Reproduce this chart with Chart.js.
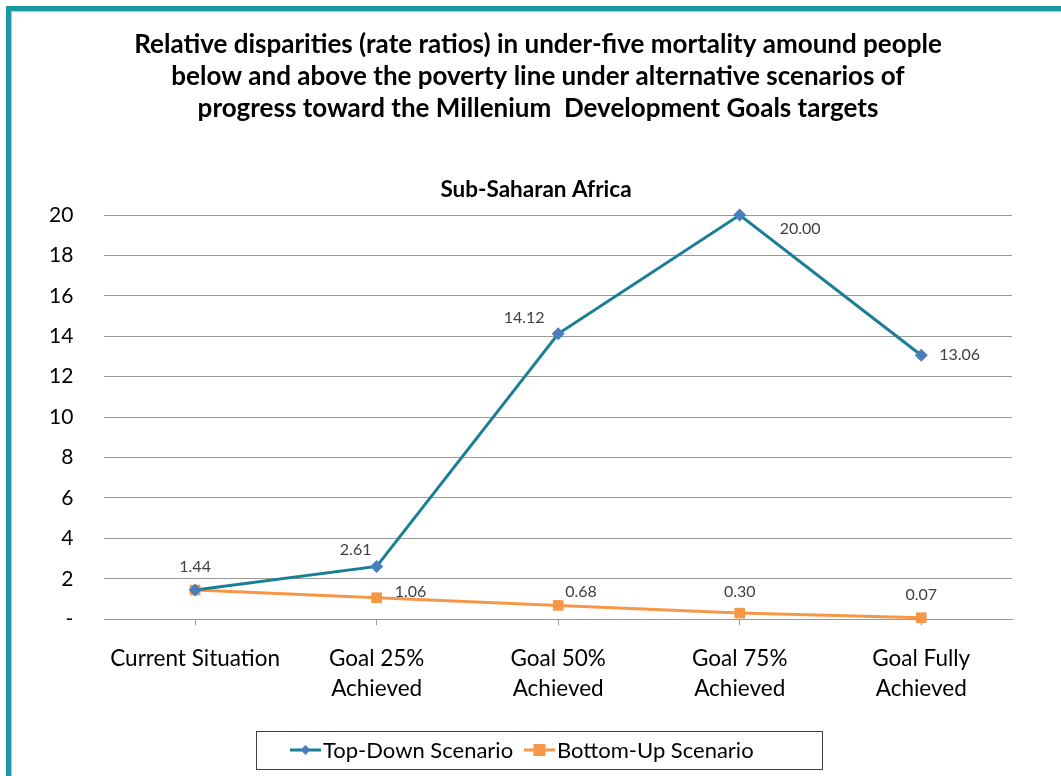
<!DOCTYPE html>
<html>
<head>
<meta charset="utf-8">
<script src="https://cdn.jsdelivr.net/npm/chart.js@4"></script>
<style>
  html, body { margin: 0; padding: 0; background: #fff; overflow: hidden; }
  #frame {
    position: absolute; left: 6px; top: 6px; width: 1100px; height: 820px;
    border: 5px solid #1b98a1; box-shadow: inset 1px 1px 0 #b9c7c9;
  }
  #wrap { position: absolute; left: 0; top: 0; width: 1061px; height: 776px; }
</style>
</head>
<body>
<div id="frame"></div>
<div id="wrap"><canvas id="chart"></canvas></div>
<script>
const categories = [
  ['Current Situation'],
  ['Goal 25%', 'Achieved'],
  ['Goal 50%', 'Achieved'],
  ['Goal 75%', 'Achieved'],
  ['Goal Fully', 'Achieved']
];
const topDown = [1.44, 2.61, 14.12, 20.00, 13.06];
const bottomUp = [1.44, 1.06, 0.68, 0.30, 0.07];
const seriesNames = ['Top-Down Scenario', 'Bottom-Up Scenario'];
const titleLines = [
  'Relative disparities (rate ratios) in under-five mortality amound people',
  'below and above the poverty line under alternative scenarios of',
  'progress toward the Millenium  Development Goals targets'
];
const subTitle = 'Sub-Saharan Africa';

const FONT = 'Lato, "Open Sans", sans-serif';

// where each value label sits relative to its point: [dx, dy, align]
const labelSpots = [
  [[0, -23, 'center'], [-21, -17, 'center'], [-34, -16, 'center'], [40, 14, 'left'], [18, 0, 'left']],
  [null, [18, -6, 'left'], [7, -14, 'left'], [0, -21, 'center'], [0, -23, 'center']]
];

// the chart is centred on the frame, not on the plot, so titles are drawn by hand
const headings = {
  id: 'headings',
  afterDraw(chart) {
    const ctx = chart.ctx;
    ctx.save();
    ctx.fillStyle = '#000';
    ctx.textAlign = 'center';
    ctx.textBaseline = 'middle';
    ctx.font = 'bold 26px ' + FONT;
    titleLines.forEach((line, i) => ctx.fillText(line, 538, 45 + i * 32));
    ctx.font = 'bold 22.5px ' + FONT;
    ctx.fillText(subTitle, 536, 190);
    ctx.restore();
  }
};

const valueLabels = {
  id: 'valueLabels',
  afterDatasetsDraw(chart) {
    const ctx = chart.ctx;
    ctx.save();
    ctx.font = '16px ' + FONT;
    ctx.fillStyle = '#404040';
    ctx.textBaseline = 'middle';
    chart.data.datasets.forEach((ds, i) => {
      chart.getDatasetMeta(i).data.forEach((pt, j) => {
        const spot = labelSpots[i][j];
        if (!spot) return;
        ctx.textAlign = spot[2];
        ctx.fillText(ds.data[j].toFixed(2), pt.x + spot[0], pt.y + spot[1]);
      });
    });
    ctx.restore();
  }
};

const boxLegend = {
  id: 'boxLegend',
  afterDraw(chart) {
    const ctx = chart.ctx;
    ctx.save();
    ctx.strokeStyle = '#404040';
    ctx.lineWidth = 1;
    ctx.strokeRect(256.5, 731.5, 566, 38);
    ctx.font = '22px ' + FONT;
    ctx.textBaseline = 'middle';
    ctx.textAlign = 'left';
    const starts = [290, 524];
    chart.data.datasets.forEach((ds, i) => {
      const x = starts[i], y = 750;
      ctx.strokeStyle = ds.borderColor;
      ctx.lineWidth = 3;
      ctx.beginPath();
      ctx.moveTo(x, y);
      ctx.lineTo(x + 31, y);
      ctx.stroke();
      ctx.fillStyle = ds.pointBackgroundColor;
      ctx.beginPath();
      if (ds.pointStyle === 'rectRot') {
        ctx.moveTo(x + 15.5, y - 5);
        ctx.lineTo(x + 20.5, y);
        ctx.lineTo(x + 15.5, y + 5);
        ctx.lineTo(x + 10.5, y);
      } else {
        ctx.rect(x + 9.5, y - 6, 12, 12);
      }
      ctx.fill();
      ctx.fillStyle = '#000';
      ctx.fillText(ds.label, x + 33, y + 1);
    });
    ctx.restore();
  }
};

new Chart(document.getElementById('chart'), {
  type: 'line',
  data: {
    labels: categories,
    datasets: [
      {
        label: seriesNames[0],
        data: topDown,
        borderColor: '#1a7f96',
        borderWidth: 3,
        pointStyle: 'rectRot',
        pointRadius: 6.5,
        pointBackgroundColor: '#4a7ebb',
        pointBorderColor: '#4a7ebb',
        pointBorderWidth: 0,
        tension: 0,
        clip: false
      },
      {
        label: seriesNames[1],
        data: bottomUp,
        borderColor: '#f79646',
        borderWidth: 3,
        pointStyle: 'rect',
        pointRadius: 7.5,
        pointBackgroundColor: '#f79646',
        pointBorderColor: '#f79646',
        pointBorderWidth: 0,
        tension: 0,
        clip: false
      }
    ]
  },
  options: {
    responsive: true,
    maintainAspectRatio: false,
    animation: false,
    layout: { padding: { top: 215, left: 18, right: 49, bottom: 53 } },
    plugins: {
      legend: { display: false },
      tooltip: { enabled: false },
      title: { display: false },
      subtitle: { display: false }
    },
    scales: {
      x: {
        offset: true,
        grid: { drawOnChartArea: false, drawTicks: true, tickLength: 6, color: '#999' },
        border: { display: true, color: '#999' },
        ticks: { color: '#000', font: { family: FONT, size: 22.5, lineHeight: 1.33 }, padding: 19, maxRotation: 0, autoSkip: false }
      },
      y: {
        min: 0,
        max: 20,
        grid: { color: '#999', drawTicks: false },
        border: { display: false },
        ticks: {
          stepSize: 2,
          color: '#000',
          padding: 31,
          font: { family: FONT, size: 21 },
          callback: v => (v === 0 ? '-' : v)
        }
      }
    }
  },
  plugins: [headings, valueLabels, boxLegend]
});
</script>
</body>
</html>
